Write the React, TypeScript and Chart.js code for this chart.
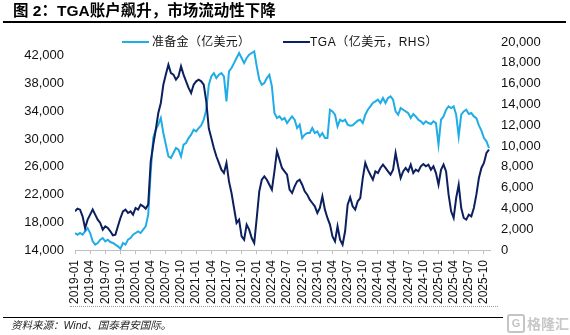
import React, { useEffect, useRef } from 'react';
import { Chart, registerables } from 'chart.js';

Chart.register(...registerables);

// Quarterly x-axis tick labels (one every 3 months starting 2019-01)
const xTickLabels = [
  '2019-01', '2019-04', '2019-07', '2019-10',
  '2020-01', '2020-04', '2020-07', '2020-10',
  '2021-01', '2021-04', '2021-07', '2021-10',
  '2022-01', '2022-04', '2022-07', '2022-10',
  '2023-01', '2023-04', '2023-07', '2023-10',
  '2024-01', '2024-04', '2024-07', '2024-10',
  '2025-01', '2025-04', '2025-07', '2025-10',
];

const leftTicks = [14000, 18000, 22000, 26000, 30000, 34000, 38000, 42000];
const rightTicks = [0, 2000, 4000, 6000, 8000, 10000, 12000, 14000, 16000, 18000, 20000];

// Semi-monthly observations starting 2019-01 (step = half a month)
const reserves = [
  16450, 16210, 16450, 16210, 16690, 17170, 16450, 15250, 14770, 15010, 15490, 15730,
  15250, 15490, 15150, 15010, 14770, 14530, 14190, 15010, 14770, 15490, 15730, 16210,
  16450, 16690, 16450, 16930, 17410, 19090, 25340, 30150, 31350, 32070, 33030, 30870,
  29190, 27500, 27270, 27990, 28710, 28470, 27500, 29190, 29430, 30150, 30630, 31350,
  31110, 31590, 31980, 32790, 34230, 37800, 39040, 39520, 38800, 39280, 39520, 39040,
  35440, 39760, 40240, 40960, 41690, 42410, 41690, 40960, 41690, 42170, 42410, 42650,
  40480, 38560, 37840, 38080, 38800, 39280, 37600, 33750, 33030, 33270, 32790, 33030,
  32310, 32790, 33270, 32790, 31590, 32070, 30150, 30630, 30870, 30870, 31590, 30870,
  31110, 30390, 30870, 30150, 30150, 34230, 33990, 33510, 31830, 32790, 32550, 32790,
  32070, 31930, 31980, 32310, 32650, 32790, 32310, 33510, 34230, 34710, 35200, 35440,
  35680, 35200, 35920, 35200, 35920, 36160, 35680, 33990, 33510, 34470, 34230, 33990,
  33750, 33030, 33610, 33270, 32790, 32550, 32170, 32550, 32310, 32170, 32550, 32310,
  29190, 32790, 33270, 34230, 34710, 34470, 34710, 33510, 30390, 33510, 33990, 34230,
  33610, 33750, 33270, 33030, 31980, 31210, 30150, 29670, 28710,
];

const tga = [
  3720, 3980, 3880, 3240, 2100, 2920, 3400, 3900, 3400, 2920, 2600, 1960,
  2280, 2120, 1800, 1410, 1480, 2280, 3080, 3720, 3880, 3560, 3720, 3400,
  4040, 3880, 4360, 4200, 3980, 4360, 8530, 10130, 11570, 13170, 14140, 15900,
  16900, 17820, 17020, 16860, 16380, 16700, 17660, 16860, 16220, 15580, 15100, 15900,
  16220, 16380, 16220, 15900, 14300, 11700, 10770, 9810, 9010, 8370, 7720, 7400,
  8370, 6600, 5480, 4040, 2600, 2920, 1310, 990, 2440, 1960, 1150, 670,
  3080, 5640, 6760, 7080, 6760, 6280, 5800, 7560, 9490, 8690, 7890, 7560,
  7240, 5800, 5480, 6120, 6600, 6760, 6280, 5640, 5320, 4840, 4520, 4200,
  3560, 4040, 5160, 3880, 3080, 2440, 1310, 830, 2280, 990, 510, 1800,
  4360, 5060, 4200, 3880, 4680, 5000, 6920, 8370, 7720, 7240, 6760, 7560,
  7400, 7890, 8210, 7890, 7560, 7240, 7720, 9330, 8050, 6920, 7560, 7890,
  7560, 8210, 7400, 7720, 7560, 8050, 8270, 8050, 8210, 7720, 8050, 7400,
  6280, 7720, 8210, 7560, 5320, 3720, 3080, 5000, 6280, 4040, 3080, 2920,
  3400, 3240, 4040, 5320, 6920, 7890, 8370, 9330, 9650,
];

const LIGHT = '#20ade6';
const NAVY = '#0c1f5e';
const AXIS_FONT = '"Liberation Sans", Arial, sans-serif';
const CJK_FONT = '"Liberation Sans", "Noto Sans CJK SC", sans-serif';

const fmt = (v: number) => Number(v).toLocaleString('en-US');

export default function App() {
  const canvasRef = useRef<HTMLCanvasElement | null>(null);

  useEffect(() => {
    if (!canvasRef.current) return;
    const chart = new Chart(canvasRef.current, {
      type: 'line',
      data: {
        datasets: [
          {
            label: 'TGA（亿美元，RHS）',
            data: tga.map((v, i) => ({ x: i * 0.5, y: v })),
            yAxisID: 'y1',
            borderColor: NAVY,
            borderWidth: 2,
            pointRadius: 0,
            tension: 0,
            fill: false,
          },
          {
            label: '准备金（亿美元）',
            data: reserves.map((v, i) => ({ x: i * 0.5, y: v })),
            yAxisID: 'y',
            borderColor: LIGHT,
            borderWidth: 2,
            pointRadius: 0,
            tension: 0,
            fill: false,
          },
        ],
      },
      options: {
        animation: false,
        responsive: false,
        devicePixelRatio: 1,
        layout: { padding: { top: 42, left: 0, right: 0, bottom: 0 } },
        plugins: {
          legend: { display: false },
          tooltip: { enabled: false },
          title: { display: false },
        },
        scales: {
          x: {
            type: 'linear',
            min: 0,
            max: 82.2,
            afterBuildTicks: (s: any) => {
              s.ticks = xTickLabels.map((_, k) => ({ value: k * 3 }));
            },
            afterFit: (s: any) => {
              s.height = 85;
            },
            ticks: {
              autoSkip: false,
              minRotation: 90,
              maxRotation: 90,
              padding: 6,
              color: '#111',
              font: { family: AXIS_FONT, size: 12 },
              callback: (v: any) => xTickLabels[Math.round(Number(v) / 3)],
            },
            grid: {
              drawOnChartArea: false,
              drawTicks: true,
              tickLength: 4,
              color: '#c0c0c0',
            },
            border: { display: true, color: '#c0c0c0', width: 1 },
          },
          y: {
            type: 'linear',
            position: 'left',
            min: 14000,
            max: 44000,
            afterBuildTicks: (s: any) => {
              s.ticks = leftTicks.map((v) => ({ value: v }));
            },
            afterFit: (s: any) => {
              s.width = 75;
            },
            ticks: {
              padding: 11,
              color: '#111',
              font: { family: AXIS_FONT, size: 13 },
              callback: (v: any) => fmt(v),
            },
            grid: { display: false, drawTicks: false },
            border: { display: false },
          },
          y1: {
            type: 'linear',
            position: 'right',
            min: 0,
            max: 20000,
            afterBuildTicks: (s: any) => {
              s.ticks = rightTicks.map((v) => ({ value: v }));
            },
            afterFit: (s: any) => {
              s.width = 80;
            },
            ticks: {
              padding: 11,
              color: '#111',
              font: { family: AXIS_FONT, size: 13 },
              callback: (v: any) => fmt(v),
            },
            grid: { display: false, drawTicks: false },
            border: { display: false },
          },
        },
      },
    } as any);
    return () => chart.destroy();
  }, []);

  const abs = (s: React.CSSProperties): React.CSSProperties => ({ position: 'absolute', ...s });

  return (
    <div
      style={{
        position: 'fixed',
        left: 0,
        top: 0,
        width: 570,
        height: 335,
        background: '#fff',
        overflow: 'hidden',
      }}
    >
      <canvas ref={canvasRef} width={570} height={335} style={abs({ left: 0, top: 0, width: 570, height: 335 })} />

      <div
        style={abs({
          left: 13,
          top: 2,
          fontSize: 15.5,
          lineHeight: '18px',
          fontWeight: 'bold',
          fontFamily: CJK_FONT,
          color: '#000',
          whiteSpace: 'nowrap',
        })}
      >
        图 2：TGA账户飙升，市场流动性下降
      </div>
      <div style={abs({ left: 3, top: 21, width: 563, height: 2, background: '#000' })} />

      <div style={abs({ left: 122, top: 41, width: 27, height: 2, background: LIGHT })} />
      <div
        style={abs({
          left: 152,
          top: 34,
          fontSize: 12,
          lineHeight: '16px',
          fontFamily: CJK_FONT,
          color: '#111',
          whiteSpace: 'nowrap',
          letterSpacing: 0.3,
        })}
      >
        准备金（亿美元）
      </div>
      <div style={abs({ left: 283, top: 41, width: 27, height: 2, background: NAVY })} />
      <div
        style={abs({
          left: 310,
          top: 34,
          fontSize: 12,
          lineHeight: '16px',
          fontFamily: CJK_FONT,
          color: '#111',
          whiteSpace: 'nowrap',
          letterSpacing: 0.5,
        })}
      >
        TGA（亿美元，RHS）
      </div>

      <div style={abs({ left: 70, top: 306, width: 428, height: 0, borderTop: '1px dotted #9a9a9a' })} />
      <div style={abs({ left: 3, top: 316.5, width: 500, height: 1.5, background: '#000' })} />
      <div
        style={abs({
          left: 11,
          top: 318,
          fontSize: 10.5,
          lineHeight: '14px',
          fontFamily: CJK_FONT,
          fontStyle: 'italic',
          color: '#222',
          whiteSpace: 'nowrap',
        })}
      >
        资料来源：Wind、国泰君安国际。
      </div>

      <div style={abs({ left: 507, top: 314, display: 'flex', alignItems: 'center', gap: 2 })}>
        <div
          style={{
            width: 14,
            height: 15,
            border: '2px solid #c4c4c4',
            borderRadius: 3,
            color: '#c4c4c4',
            fontFamily: AXIS_FONT,
            fontWeight: 'bold',
            fontSize: 11,
            lineHeight: '15px',
            textAlign: 'center',
          }}
        >
          G
        </div>
        <div
          style={{
            fontFamily: CJK_FONT,
            fontWeight: 'bold',
            fontSize: 14,
            lineHeight: '18px',
            color: '#c8c8c8',
            whiteSpace: 'nowrap',
          }}
        >
          格隆汇
        </div>
      </div>
    </div>
  );
}
